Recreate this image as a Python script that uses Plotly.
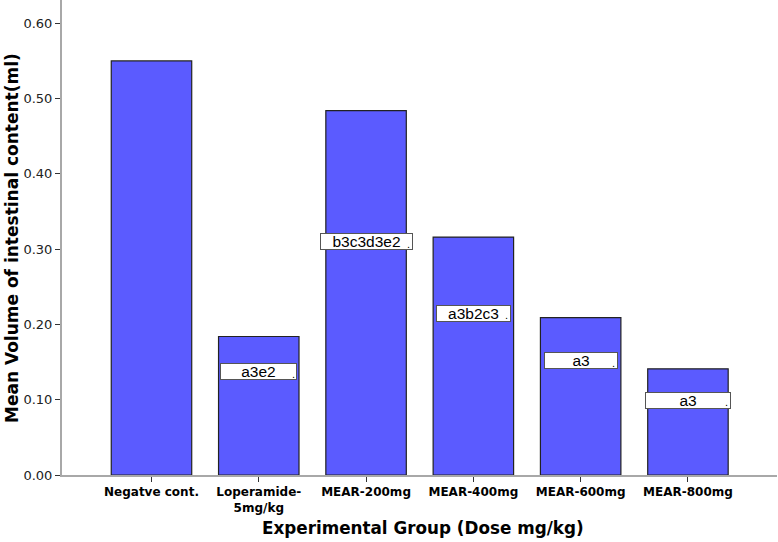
import plotly.graph_objects as go

categories = ["Negatve cont.", "Loperamide-<br>5mg/kg", "MEAR-200mg", "MEAR-400mg", "MEAR-600mg", "MEAR-800mg"]
means = [0.550, 0.184, 0.484, 0.316, 0.209, 0.141]
sig_labels = ["", "a3e2", "b3c3d3e2", "a3b2c3", "a3", "a3"]
label_pos = [None, 0.137, 0.310, 0.215, 0.152, 0.0995]
label_width = [0, 77, 93, 75, 74, 86]
y_ticks = [0.0, 0.1, 0.2, 0.3, 0.4, 0.5, 0.6]

BOLD = "DejaVu Sans"
fig = go.Figure()
fig.add_trace(go.Bar(
    x=list(range(len(categories))), y=means, width=0.75,
    marker=dict(color="#5b5bff", line=dict(color="#222222", width=1.2)),
))

PX = 107.3  # px per category
for i, (lab, yp, w) in enumerate(zip(sig_labels, label_pos, label_width)):
    if not lab:
        continue
    fig.add_annotation(x=i, y=yp, xref="x", yref="y", text=lab, showarrow=False,
                       width=w - 2, height=15, align="center",
                       bgcolor="white", bordercolor="#555555", borderwidth=1, borderpad=0,
                       font=dict(family="Liberation Sans, Arial", size=15.5, color="black"))
    fig.add_annotation(x=i + (w / 2 - 4) / PX, y=yp, xref="x", yref="y", text=".",
                       showarrow=False, yshift=-2,
                       font=dict(family="Liberation Sans, Arial", size=11, color="black"))

fig.add_annotation(xref="paper", yref="paper", x=(423 - 62) / 715, y=-(528 - 475) / 475,
                   text="<b>Experimental Group (Dose mg/kg)</b>", showarrow=False,
                   xanchor="center", yanchor="middle",
                   font=dict(family=BOLD, size=16.8, color="black"))
fig.add_annotation(xref="paper", yref="paper", x=-(62 - 12) / 715, y=(475 - 238) / 475,
                   text="<b>Mean Volume of intestinal content(ml)</b>", showarrow=False,
                   textangle=-90, xanchor="center", yanchor="middle",
                   font=dict(family=BOLD, size=17, color="black"))

fig.update_layout(
    width=778, height=542,
    margin=dict(l=62, r=1, t=0, b=67),
    plot_bgcolor="white", paper_bgcolor="white",
    showlegend=False,
    font=dict(family="DejaVu Sans", color="black"),
    xaxis=dict(
        tickmode="array", tickvals=list(range(len(categories))), ticktext=categories,
        range=[-0.834, 5.83], showgrid=False, zeroline=False, automargin=False,
        showline=True, linecolor="#a8a8a8", linewidth=2,
        ticks="outside", ticklen=5, tickcolor="#333333", tickwidth=1,
        tickfont=dict(family=BOLD, size=12, color="black", weight="bold"),
    ),
    yaxis=dict(
        tickmode="array", tickvals=y_ticks, ticktext=[f"{v:.2f}" for v in y_ticks],
        range=[0, 0.631], showgrid=False, zeroline=False, automargin=False,
        showline=True, linecolor="#a8a8a8", linewidth=2,
        ticks="outside", ticklen=5, tickcolor="#333333", tickwidth=1,
        tickfont=dict(family="DejaVu Sans", size=13, color="#222222"),
    ),
)

fig.write_html("out.html", config={"displayModeBar": False},
               post_script="document.body.style.margin='0px';")
